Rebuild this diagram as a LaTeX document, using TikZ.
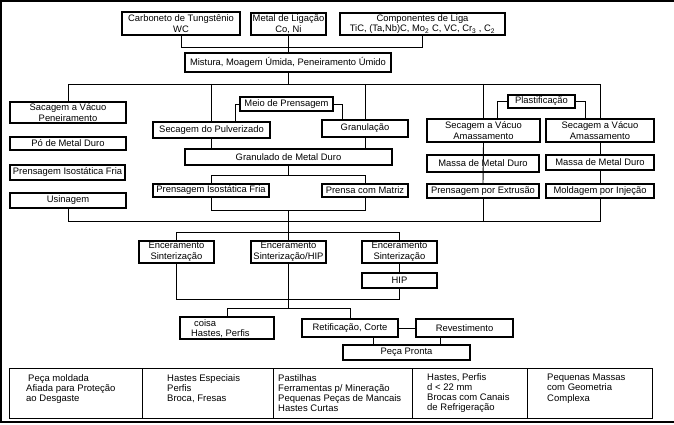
\documentclass[tikz,border=0pt]{standalone}
\usepackage{fontspec}
\setmainfont{Liberation Sans}
\begin{document}
\begin{tikzpicture}[x=1pt,y=-1pt,
  box/.style={draw,line width=1.5pt,inner sep=0pt,align=center,font=\fontsize{9.4}{10.6}\selectfont},
  conn/.style={line width=0.9pt},
  tabtext/.style={inner sep=0pt,align=left,anchor=north west,font=\fontsize{9.5}{10.2}\selectfont}]
\newcommand\bx[6]{\node[box,minimum width={(#4)-(#2)},minimum height={(#5)-(#3)}] (#1) at ({((#2)+(#4))/2},{((#3)+(#5))/2}) {#6};}
\useasboundingbox (0,0) rectangle (674,425);
% outer frame
\draw[line width=2pt] (674,1) -- (1,1) -- (1,422) -- (674,422);
% boxes
\bx{carb}{122}{12}{240}{35}{Carboneto de Tungstênio\\WC}
\bx{metal}{251}{13}{326}{35}{Metal de Ligação\\Co, Ni}
\bx{comp}{340}{13}{505}{35}{Componentes de Liga\\TiC, (Ta,Nb)C, Mo\textsubscript{2} C, VC, Cr\textsubscript{3} , C\textsubscript{2}}
\bx{mist}{185}{53}{391}{72}{Mistura, Moagem Úmida, Peneiramento Úmido}
\bx{sac}{10}{102}{126}{123}{Sacagem a Vácuo\\Peneiramento}
\bx{po}{10}{137}{126}{150}{Pó de Metal Duro}
\bx{pif}{10}{165}{125}{180}{Prensagem Isostática Fria}
\bx{usi}{10}{193}{126}{208}{Usinagem}
\bx{meio}{240}{97}{333}{111}{Meio de Prensagem}
\bx{secp}{153}{122}{270}{138}{Secagem do Pulverizado}
\bx{gran}{322}{120}{408}{137}{Granulação}
\bx{granmd}{185}{149}{392}{165}{Granulado de Metal Duro}
\bx{pif2}{153}{184}{269}{197}{Prensagem Isostática Fria}
\bx{pcm}{322}{184}{408}{197}{Prensa com Matriz}
\bx{plast}{508}{95}{575}{108}{Plastificação}
\bx{sva1}{427}{119}{540}{142}{Secagem a Vácuo\\Amassamento}
\bx{sva2}{546}{119}{654}{142}{Secagem a Vácuo\\Amassamento}
\bx{mmd1}{427}{155}{539}{172}{Massa de Metal Duro}
\bx{mmd2}{546}{155}{654}{170}{Massa de Metal Duro}
\bx{pext}{427}{184}{539}{198}{Prensagem por Extrusão}
\bx{minj}{546}{184}{654}{198}{Moldagem por Injeção}
\bx{ence1}{139}{241}{214}{263}{Enceramento\\Sinterização}
\bx{ence2}{251}{241}{326}{263}{Enceramento\\Sinterização/HIP}
\bx{ence3}{362}{241}{437}{263}{Enceramento\\Sinterização}
\bx{hip}{362}{273}{437}{288}{HIP}
\bx{coisa}{180}{317}{274}{339}{}
\node[inner sep=0pt,align=left,anchor=west,font=\fontsize{9.4}{10.6}\selectfont] (coisatxt) at (191,328.5) {\hspace*{3pt}coisa\\Hastes, Perfis};
\bx{retif}{302}{319}{398}{337}{Retificação, Corte}
\bx{revest}{416}{319}{513}{337}{Revestimento}
\bx{peca}{343}{345}{470}{360}{Peça Pronta}
% junction coordinates
\coordinate (j1) at (0,47);
\coordinate (j2) at (0,84);
\coordinate (j3) at (0,175);
\coordinate (j4) at (0,210);
\coordinate (j5) at (0,221);
\coordinate (j6) at (0,232);
\coordinate (j7) at (0,299);
\coordinate (j8) at (0,308);
\coordinate (ml) at (235,0);
\coordinate (mr) at (342,0);
\coordinate (pl) at (497,0);
\coordinate (pr) at (585,0);
\coordinate (cx) at (227,0);
\coordinate (pa) at (373,0);
\coordinate (pb) at (440,0);
% connectors
\begin{scope}[conn]
\draw (carb.south) -- (carb.south |- j1) -- (comp.south |- j1) -- (comp.south);
\draw (metal.south) -- (metal.south |- mist.north);
\draw (mist.south) -- (mist.south |- j2);
\draw (sac.north) -- (sac.north |- j2) -- (sva2.north |- j2) -- (sva2.north);
\draw (secp.north |- j2) -- (secp.north);
\draw (gran.north |- j2) -- (gran.north);
\draw (sva1.north |- j2) -- (sva1.north);
\draw (meio.west) -| (secp.north -| ml);
\draw (meio.east) -| (gran.north -| mr);
\draw (plast.west) -| (sva1.north -| pl);
\draw (plast.east) -| (sva2.north -| pr);
\draw (secp.south) -- (secp.south |- granmd.north);
\draw (gran.south) -- (gran.south |- granmd.north);
\draw (granmd.south) -- (granmd.south |- j3);
\draw (pif2.north) -- (pif2.north |- j3) -- (pcm.north |- j3) -- (pcm.north);
\draw (pif2.south) -- (pif2.south |- j4) -- (pcm.south |- j4) -- (pcm.south);
\draw (ence2.north |- j4) -- (ence2.north);
\draw (sva1.south) -- (pext.north);
\draw (sva2.south) -- (mmd2.north);
\draw (mmd2.south) -- (minj.north);
\draw (usi.south) -- (usi.south |- j5) -- (minj.south |- j5) -- (minj.south);
\draw (pext.south) -- (pext.south |- j5);
\draw (ence1.north) -- (ence1.north |- j6) -- (ence3.north |- j6) -- (ence3.north);
\draw (ence3.south) -- (hip.north);
\draw (ence1.south) -- (ence1.south |- j7) -- (hip.south |- j7) -- (hip.south);
\draw (ence2.south) -- (ence2.south |- j8);
\draw (coisa.north -| cx) |- (retif.north |- j8) -- (retif.north);
\draw (retif.east) -- (revest.west);
\draw (retif.south -| pa) -- (peca.north -| pa);
\draw (revest.south -| pb) -- (peca.north -| pb);
\end{scope}
% bottom table
\draw[line width=0.8pt] (9,368) rectangle (652,418);
\foreach \xx in {142,273,412,527} \draw[line width=0.8pt] (\xx,368) -- (\xx,418);
\node[tabtext] (t1) at (26,374) {\hspace*{2pt}Peça moldada\\Afiada para Proteção\\ao Desgaste};
\node[tabtext] (t2) at (167,374) {Hastes Especiais\\Perfis\\Broca, Fresas};
\node[tabtext] (t3) at (278,374) {Pastilhas\\Ferramentas p/ Mineração\\Pequenas Peças de Mancais\\Hastes Curtas};
\node[tabtext] (t4) at (427,373) {Hastes, Perfis\\d < 22 mm\\Brocas com Canais\\de Refrigeração};
\node[tabtext] (t5) at (547,374) {Pequenas Massas\\com Geometria\\Complexa};
\end{tikzpicture}
\end{document}
